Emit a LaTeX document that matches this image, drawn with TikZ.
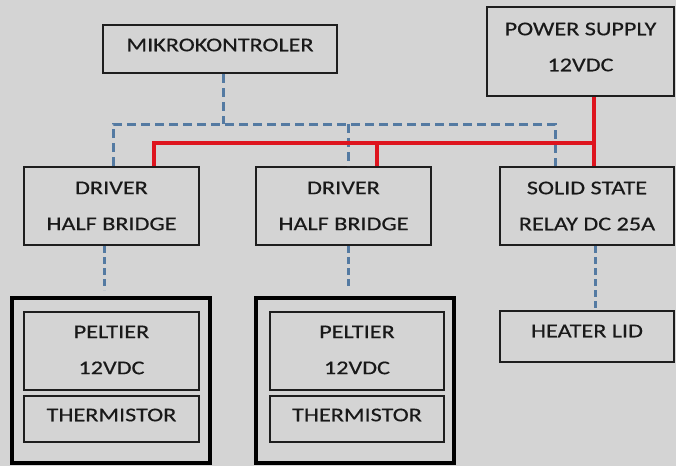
\documentclass[tikz,border=0pt]{standalone}
\usepackage{fontspec}
\setmainfont{Carlito}[FakeStretch=1.24,FakeBold=0.4]
\begin{document}
\begin{tikzpicture}[x=1pt,y=-1pt,
  bx/.style={draw=boxc,line width=2pt,minimum width=#1,inner sep=0pt,anchor=center},
  outer/.style={draw=black,line width=3.4pt,inner sep=0pt},
  lbl/.style={font=\fontsize{19.5}{36}\selectfont,align=center,text=txtc,inner sep=0pt},
  sig/.style={draw=sigc,line width=3pt,dash pattern=on 9pt off 5pt},
  sigs/.style={draw=sigc,line width=3pt,dash pattern=on 7pt off 4pt},
  pwr/.style={draw=pwrc,line width=3.3pt}]
\definecolor{bgc}{RGB}{212,212,212}
\definecolor{boxc}{RGB}{30,30,30}
\definecolor{txtc}{RGB}{25,25,25}
\definecolor{sigc}{RGB}{84,122,162}
\definecolor{pwrc}{RGB}{222,20,30}
\fill[bgc] (0,0) rectangle (676,466);
\useasboundingbox (0,0) rectangle (676,466);
% boxes
\node[bx=234pt,minimum height=48pt] (mk) at (220,49) {};
\node[bx=187pt,minimum height=89pt] (ps) at (580.5,51.5) {};
\node[bx=175pt,minimum height=78pt] (d1) at (111.5,206) {};
\node[bx=175pt,minimum height=78pt] (d2) at (343.5,206) {};
\node[bx=174pt,minimum height=78pt] (ssr) at (587,206) {};
\node[bx=174pt,minimum height=51pt] (hl) at (587,336.5) {};
\node[outer,minimum width=198pt,minimum height=165pt] (o1) at (111,380.5) {};
\node[outer,minimum width=198pt,minimum height=165pt] (o2) at (355,380.5) {};
\node[bx=175pt,minimum height=78pt] (p1) at (111.5,351) {};
\node[bx=175pt,minimum height=46pt] (t1) at (111.5,419) {};
\node[bx=174pt,minimum height=78pt] (p2) at (357,351) {};
\node[bx=174pt,minimum height=46pt] (t2) at (357,419) {};
% texts
\node[lbl] (mkt) at (220,45) {MIKROKONTROLER};
\node[lbl] (pst) at (580.5,47) {POWER SUPPLY\\12VDC};
\node[lbl] (d1t) at (111.5,206) {DRIVER\\HALF BRIDGE};
\node[lbl] (d2t) at (343.5,206) {DRIVER\\HALF BRIDGE};
\node[lbl] (ssrt) at (587,206) {SOLID STATE\\RELAY DC 25A};
\node[lbl] (hlt) at (587,331) {HEATER LID};
\node[lbl] (p1t) at (111.5,350) {PELTIER\\12VDC};
\node[lbl] (t1t) at (111.5,415) {THERMISTOR};
\node[lbl] (p2t) at (357,350) {PELTIER\\12VDC};
\node[lbl] (t2t) at (357,415) {THERMISTOR};
% signal bus
\coordinate (bj) at (223,124);
\coordinate (bl) at (113,124);
\coordinate (bm) at (348,124);
\coordinate (br) at (555,124);
\draw[sig] (mk.south -| bj) -- (bj);
\draw[sig] (d1.north -| bl) -- (bl) -- (br) -- (ssr.north -| br);
\draw[sig] (bm) -- (d2.north -| bm);
% power bus
\coordinate (rc) at (594,143);
\coordinate (rl) at (154,143);
\coordinate (rm) at (377,143);
\draw[pwr] (ps.south -| rc) -- (ssr.north -| rc);
\draw[pwr] (d1.north -| rl) -- (rl) -- (rc);
\draw[pwr] (rm) -- (d2.north -| rm);
% lower signal links
\coordinate (e1) at (104,290);
\coordinate (e2) at (348,288);
\draw[sigs] (d1.south -| e1) -- (e1);
\draw[sigs] (d2.south -| e2) -- (e2);
\draw[sigs] (ssr.south -| 595,0) -- (hl.north -| 595,0);
\end{tikzpicture}
\end{document}
